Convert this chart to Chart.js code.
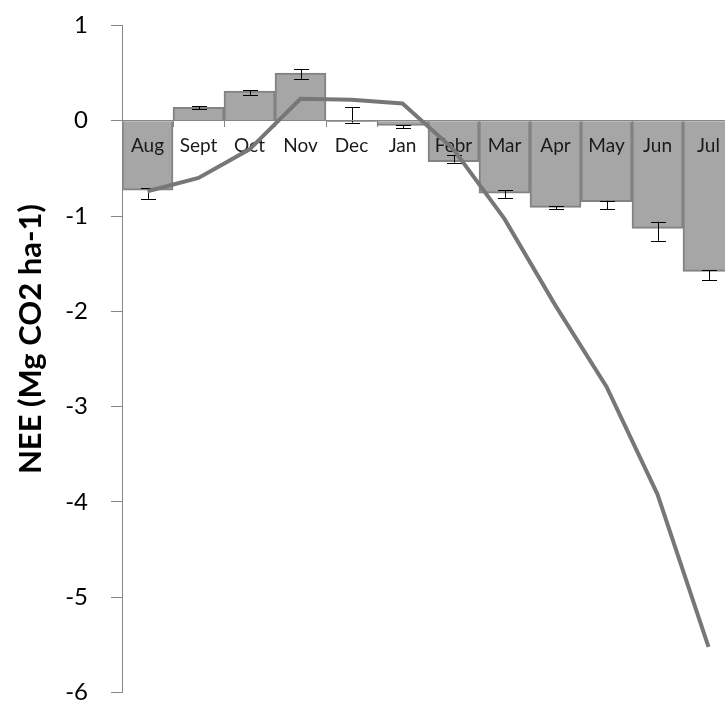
<!DOCTYPE html>
<html>
<head>
<meta charset="utf-8">
<script src="https://cdn.jsdelivr.net/npm/chart.js@4.4.1/dist/chart.umd.min.js"></script>
<style>
    html, body { margin: 0; padding: 0; overflow: hidden; background: #fff; }
    #wrap { width: 740px; height: 742px; margin-top: -12px; }
</style>
</head>
<body>
<div id="wrap"><canvas id="neeChart" width="740" height="742"></canvas></div>
<script>
// NEE chart data
const months = ["Aug", "Sept", "Oct", "Nov", "Dec", "Jan", "Febr", "Mar", "Apr", "May", "Jun", "Jul"];
const monthlyNee = [-0.73, 0.14, 0.31, 0.50, -0.01, -0.05, -0.43, -0.76, -0.91, -0.85, -1.13, -1.58];
const errHigh = [-0.71, 0.15, 0.32, 0.54, 0.14, -0.05, -0.36, -0.73, -0.90, -0.84, -1.06, -1.57];
const errLow = [-0.82, 0.12, 0.27, 0.44, -0.02, -0.08, -0.44, -0.81, -0.93, -0.93, -1.26, -1.67];
const cumulativeNee = [-0.74, -0.60, -0.30, 0.23, 0.22, 0.18, -0.30, -1.03, -1.94, -2.79, -3.92, -5.52];
const yTitle = "NEE (Mg CO2 ha-1)";

Chart.defaults.font.family = "Lato";
Chart.defaults.color = "#000";

const axisGrey = "#868686";

// error bars on top of the monthly bars
const errorBars = {
    id: 'errorBars',
    afterDatasetsDraw(chart) {
        const ctx = chart.ctx;
        const meta = chart.getDatasetMeta(0);
        const y = chart.scales.y;
        ctx.save();
        ctx.strokeStyle = "#000";
        ctx.lineWidth = 1;
        meta.data.forEach((bar, i) => {
            const x = Math.round(bar.x) + 0.5;
            const top = y.getPixelForValue(errHigh[i]);
            const bottom = y.getPixelForValue(errLow[i]);
            ctx.beginPath();
            ctx.moveTo(x, top);
            ctx.lineTo(x, bottom);
            ctx.moveTo(x - 7.5, Math.round(top) + 0.5);
            ctx.lineTo(x + 7.5, Math.round(top) + 0.5);
            ctx.moveTo(x - 7.5, Math.round(bottom) + 0.5);
            ctx.lineTo(x + 7.5, Math.round(bottom) + 0.5);
            ctx.stroke();
        });
        ctx.restore();
    }
};

// the cumulative line sits above the month labels, so draw it last
const lineOnTop = {
    id: 'lineOnTop',
    beforeDatasetDraw(chart, args) {
        if (args.index === 1) return false;
    },
    afterDraw(chart) {
        const ctx = chart.ctx;
        ctx.save();
        chart.getDatasetMeta(1).controller.draw();
        ctx.restore();

        // y axis title
        ctx.save();
        ctx.translate(31, 351);
        ctx.rotate(-Math.PI / 2);
        ctx.font = "bold 31px Lato";
        ctx.fillStyle = "#000";
        ctx.textAlign = "center";
        ctx.textBaseline = "middle";
        ctx.fillText(yTitle, 0, 0);
        ctx.restore();
    }
};

new Chart(document.getElementById('neeChart'), {
    type: 'bar',
    data: {
        labels: months,
        datasets: [
            {
                label: 'Monthly NEE',
                data: monthlyNee,
                backgroundColor: "#a6a6a6",
                borderColor: "#838383",
                borderWidth: 2,
                categoryPercentage: 1,
                barPercentage: 1,
                order: 2
            },
            {
                type: 'line',
                label: 'Cumulative NEE',
                data: cumulativeNee,
                borderColor: "#777777",
                borderWidth: 4,
                pointRadius: 0,
                tension: 0,
                fill: false,
                order: 1
            }
        ]
    },
    options: {
        responsive: false,
        animation: false,
        layout: {
            padding: { left: 0, top: 12, right: 6, bottom: 17 }
        },
        plugins: {
            legend: { display: false },
            tooltip: { enabled: false }
        },
        scales: {
            x: {
                position: { y: 0 },
                offset: true,
                grid: {
                    offset: true,
                    drawOnChartArea: false,
                    drawTicks: true,
                    tickLength: 6,
                    color: axisGrey,
                    z: 1
                },
                border: { display: true, color: axisGrey, width: 1, z: 1 },
                ticks: {
                    font: { size: 19 },
                    color: "#1a1a1a",
                    padding: 8,
                    maxRotation: 0,
                    autoSkip: false,
                    z: 1
                }
            },
            y: {
                min: -6,
                max: 1,
                afterFit(scale) {
                    scale.width = 122;
                },
                grid: {
                    drawOnChartArea: false,
                    drawTicks: true,
                    tickLength: 11,
                    color: axisGrey
                },
                border: { display: true, color: axisGrey, width: 1 },
                ticks: {
                    stepSize: 1,
                    font: { size: 24 },
                    color: "#000",
                    padding: 23
                }
            }
        }
    },
    plugins: [errorBars, lineOnTop]
});
</script>
</body>
</html>
